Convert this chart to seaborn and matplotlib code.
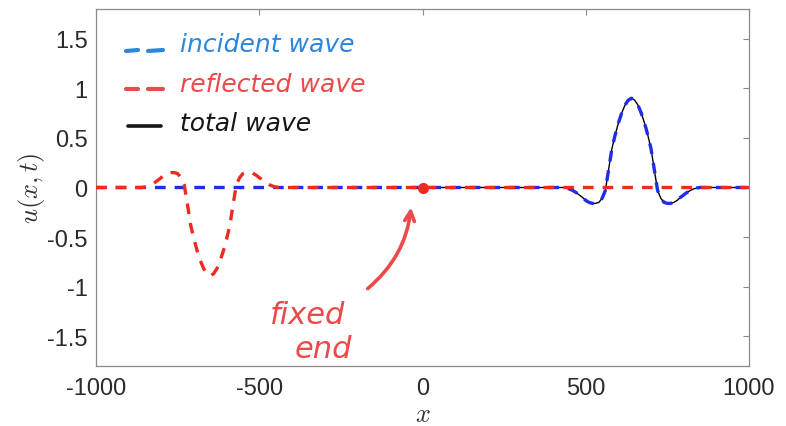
import numpy as np
import pandas as pd
import seaborn as sns
import matplotlib
matplotlib.use("Agg")
import matplotlib.pyplot as plt
from matplotlib.lines import Line2D

# ---------------- data ----------------
x_reflected = [-1000] + list(range(-860, -430, 10)) + [1000]
u_reflected = [0.0,
               0.0, 0.005, 0.015, 0.03, 0.05, 0.075, 0.10, 0.125, 0.145, 0.15, 0.15,
               0.14, 0.10, 0.03, -0.17, -0.38, -0.52, -0.64, -0.74, -0.82, -0.87, -0.89,
               -0.87, -0.82, -0.74, -0.64, -0.52, -0.38, -0.17, 0.03, 0.10, 0.14,
               0.15, 0.15, 0.145, 0.125, 0.10, 0.075, 0.05, 0.03, 0.015, 0.005, 0.0,
               0.0]

x_incident = [-1000] + list(range(430, 860, 10)) + [1000]
u_incident = [0.0,
              0.0, -0.005, -0.015, -0.03, -0.05, -0.075, -0.10, -0.13, -0.15, -0.16, -0.16,
              -0.15, -0.11, -0.03, 0.18, 0.39, 0.53, 0.65, 0.75, 0.83, 0.88, 0.90,
              0.88, 0.83, 0.75, 0.65, 0.53, 0.39, 0.18, -0.03, -0.11, -0.15,
              -0.16, -0.16, -0.15, -0.13, -0.10, -0.075, -0.05, -0.03, -0.015, -0.005, 0.0,
              0.0]

x_total = [0] + list(range(430, 860, 10)) + [1000]
u_total = [0.0,
           0.0, -0.005, -0.015, -0.03, -0.05, -0.075, -0.10, -0.13, -0.15, -0.16, -0.16,
           -0.15, -0.11, -0.03, 0.18, 0.39, 0.53, 0.65, 0.75, 0.83, 0.88, 0.90,
           0.88, 0.83, 0.75, 0.65, 0.53, 0.39, 0.18, -0.03, -0.11, -0.15,
           -0.16, -0.16, -0.15, -0.13, -0.10, -0.075, -0.05, -0.03, -0.015, -0.005, 0.0,
           0.0]

fixed_end_x = [0]
fixed_end_u = [0]

x_ticks = [-1000, -500, 0, 500, 1000]
y_ticks = [-1.5, -1, -0.5, 0, 0.5, 1, 1.5]
y_tick_labels = ["-1.5", "-1", "-0.5", "0", "0.5", "1", "1.5"]

# ---------------- style ----------------
sns.set_style("white")
plt.rcParams["font.family"] = ["Liberation Sans", "DejaVu Sans"]
plt.rcParams["mathtext.fontset"] = "cm"

W, H = 786, 427
fig = plt.figure(figsize=(W / 100, H / 100), dpi=100)
ax = fig.add_axes([96 / W, 1 - 367 / H, (749 - 96) / W, (367 - 10) / H])

BLUE = "#1f2bef"
RED = "#f02a1e"
dash = (0, (3.2, 2.7))

sns.lineplot(x=x_total, y=u_total, ax=ax, color="black", linewidth=1.0,
             estimator=None, sort=False, zorder=2)
sns.lineplot(x=x_incident, y=u_incident, ax=ax, color=BLUE, linewidth=2.4,
             linestyle=dash, estimator=None, sort=False, zorder=3)
sns.lineplot(x=x_reflected, y=u_reflected, ax=ax, color=RED, linewidth=2.4,
             linestyle=dash, estimator=None, sort=False, zorder=4)
ax.plot(fixed_end_x, fixed_end_u, "o", color=RED, markersize=7, zorder=5)

ax.set_xlim(-1000, 1000)
ax.set_ylim(-1.8, 1.8)
ax.set_xticks(x_ticks)
ax.set_xticklabels([str(t) for t in x_ticks])
ax.set_yticks(y_ticks)
ax.set_yticklabels(y_tick_labels)

for s in ax.spines.values():
    s.set_visible(True)
    s.set_color("#8a8a8a")
    s.set_linewidth(0.9)
ax.tick_params(direction="in", length=4, width=0.8, color="#8a8a8a",
               top=True, right=True, labelsize=17, labelcolor="#2a2a2a")
ax.tick_params(axis="x", pad=8)
ax.tick_params(axis="y", pad=6)

ax.set_xlabel("$x$", fontsize=19, color="#333333", labelpad=2)
ax.set_ylabel("$u(x,t)$", fontsize=19, color="#333333", labelpad=0)

# ---------------- handwritten-style annotations ----------------
def fx(px):
    return px / W

def fy(py):
    return 1 - py / H

HB = "#2b86e0"
HR = "#ea4a4a"
HK = "#161616"

for (x0, x1) in [(126, 138), (148, 163)]:
    fig.add_artist(Line2D([fx(x0), fx(x1)], [fy(52), fy(51)], color=HB, lw=3,
                          solid_capstyle="round"))
    fig.add_artist(Line2D([fx(x0), fx(x1)], [fy(90), fy(90)], color=HR, lw=3,
                          solid_capstyle="round"))
fig.add_artist(Line2D([fx(128), fx(161)], [fy(127), fy(127)], color=HK, lw=2.6,
                      solid_capstyle="round"))

hand = dict(family=["DejaVu Sans"], style="italic", fontsize=18, va="center", ha="left")
fig.text(fx(180), fy(45), "incident wave", color=HB, **hand)
fig.text(fx(180), fy(85), "reflected wave", color=HR, **hand)
fig.text(fx(180), fy(124), "total wave", color=HK, **hand)

fig.text(fx(308), fy(316), "fixed", color=HR, family=["DejaVu Sans"], style="italic",
         fontsize=22, ha="center", va="center")
fig.text(fx(323), fy(350), "end", color=HR, family=["DejaVu Sans"], style="italic",
         fontsize=22, ha="center", va="center")

ax.annotate("", xy=(-35, -0.2), xytext=(-168, -1.02), xycoords="data",
            arrowprops=dict(arrowstyle="->,head_length=0.7,head_width=0.35",
                            color=HR, lw=2.6, connectionstyle="arc3,rad=0.2",
                            shrinkA=0, shrinkB=0, capstyle="round"))

fig.savefig("out.png", dpi=100)
